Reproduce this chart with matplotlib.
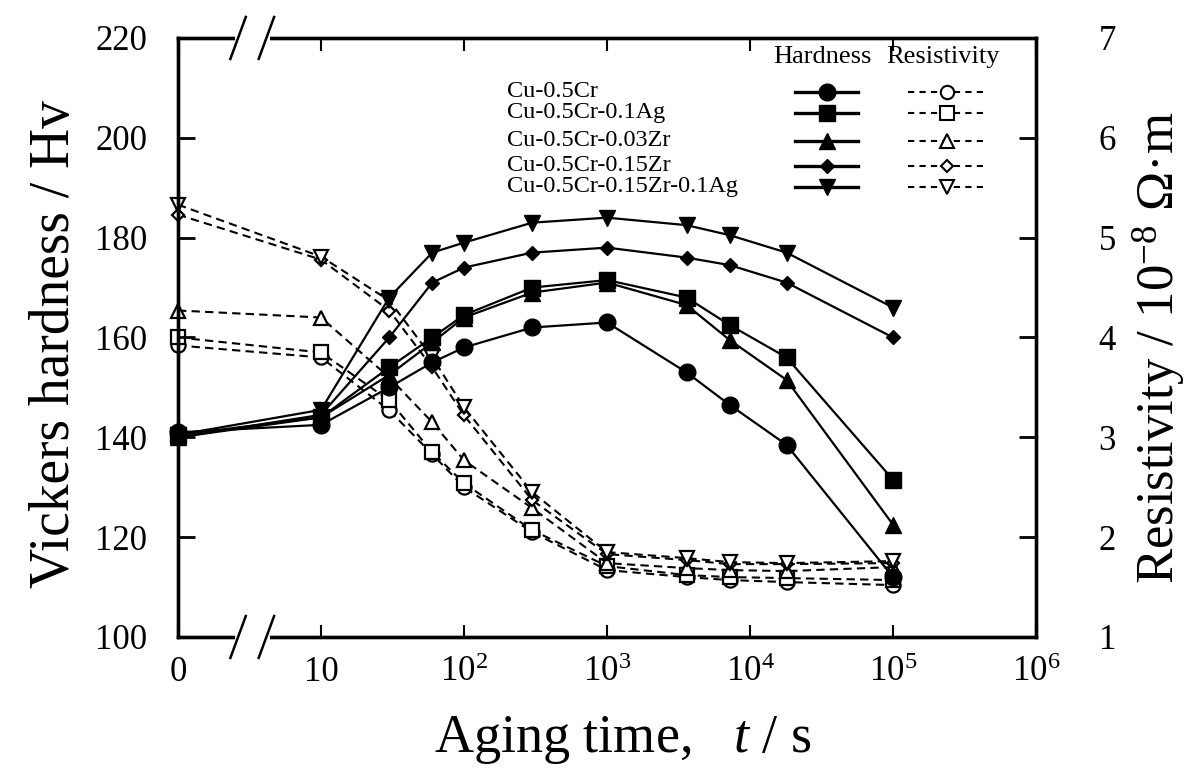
import numpy as np
import matplotlib
matplotlib.use("Agg")
import matplotlib.pyplot as plt

plt.rcParams['font.family'] = ['Liberation Serif', 'DejaVu Serif']
plt.rcParams['mathtext.fontset'] = 'custom'
plt.rcParams['mathtext.rm'] = 'Liberation Serif'
plt.rcParams['mathtext.it'] = 'Liberation Serif:italic'

# aging time (s); 0 is drawn at the "1" position of the log axis (broken axis)
time_s = [0, 10, 30, 60, 100, 300, 1000, 3600, 7200, 18000, 100000]

alloys = ['Cu-0.5Cr', 'Cu-0.5Cr-0.1Ag', 'Cu-0.5Cr-0.03Zr',
          'Cu-0.5Cr-0.15Zr', 'Cu-0.5Cr-0.15Zr-0.1Ag']

# Vickers hardness / Hv
hv_cr = [141, 142.5, 150, 155, 158, 162, 163, 153, 146.5, 138.5, 112]
hv_cr_ag = [140.5, 144, 154, 160, 164.5, 170, 171.5, 168, 162.5, 156, 131.5]
hv_cr_zr003 = [140, 144, 152.5, 159, 164, 169, 171, 166.5, 159.5, 151.5, 122.5]
hv_cr_zr015 = [140, 144.5, 160, 171, 174, 177, 178, 176, 174.5, 171, 160]
hv_cr_zr015_ag = [140.5, 145.5, 168, 177, 179, 183, 184, 182.5, 180.5, 177, 166]

# resistivity / 10^-8 ohm m
rho_cr = [3.92, 3.8, 3.27, 2.83, 2.5, 2.05, 1.67, 1.6, 1.57, 1.55, 1.52]
rho_cr_ag = [4.0, 3.85, 3.37, 2.85, 2.54, 2.07, 1.71, 1.62, 1.6, 1.59, 1.57]
rho_cr_zr003 = [4.27, 4.2, 3.6, 3.15, 2.77, 2.29, 1.74, 1.69, 1.67, 1.66, 1.7]
rho_cr_zr015 = [5.23, 4.78, 4.27, 3.7, 3.22, 2.37, 1.83, 1.77, 1.73, 1.73, 1.74]
rho_cr_zr015_ag = [5.33, 4.81, 4.37, 3.8, 3.3, 2.45, 1.85, 1.79, 1.75, 1.74, 1.76]

hv_all = [hv_cr, hv_cr_ag, hv_cr_zr003, hv_cr_zr015, hv_cr_zr015_ag]
rho_all = [rho_cr, rho_cr_ag, rho_cr_zr003, rho_cr_zr015, rho_cr_zr015_ag]
markers = ['o', 's', '^', 'D', 'v']
msizes = [12, 12, 12, 7.5, 12]

x_ticks = [1, 10, 1e2, 1e3, 1e4, 1e5, 1e6]
x_ticklabels = ['0', '10', '$10^2$', '$10^3$', '$10^4$', '$10^5$', '$10^6$']

t_plot = np.where(np.array(time_s) == 0, 1, time_s)

fig = plt.figure(figsize=(11.9, 7.81), dpi=100)
ax = fig.add_axes([0.1496, 0.1844, 0.721, 0.767])
ax2 = ax.twinx()

# resistivity (dashed, open markers)
for rho, m, ms in zip(rho_all, markers, msizes):
    ax2.plot(t_plot, rho, ls=(0, (4, 2.5)), lw=1.5, color='black', marker=m,
             ms=ms * 0.85, mfc='white', mec='black', mew=1.6, clip_on=False)

# hardness (solid, filled markers)
for hv, m, ms in zip(hv_all, markers, msizes):
    ax.plot(t_plot, hv, ls='-', lw=1.6, color='black', marker=m, ms=ms,
            mfc='black', mec='black', clip_on=False, zorder=3)
ax.set_zorder(ax2.get_zorder() + 1)
ax.patch.set_visible(False)

ax.set_xscale('log')
ax.set_xlim(1, 1e6)
ax.set_ylim(100, 220)
ax2.set_ylim(1, 7)
ax.set_xticks(x_ticks)
ax.set_xticklabels(x_ticklabels)
ax.xaxis.set_minor_locator(matplotlib.ticker.NullLocator())
ax.set_yticks(np.arange(100, 221, 20))
ax2.set_yticks(np.arange(1, 8, 1))

ax.tick_params(axis='x', direction='in', length=9, width=1.5, top=True,
               labelsize=25, pad=14)
ax.tick_params(axis='y', direction='in', length=12, width=2, labelsize=25,
               pad=22)
ax2.tick_params(axis='y', direction='in', length=12, width=2, labelsize=25,
                pad=45)
for a in (ax, ax2):
    for s in a.spines.values():
        s.set_linewidth(2.4)

# axis break marks "//" on top and bottom spines
for yb in (0, 1):
    ax.plot([0.07, 0.103], [yb, yb], transform=ax.transAxes, color='white',
            lw=5, clip_on=False, zorder=10)
    for xb in (0.07, 0.103):
        ax.plot([xb - 0.009, xb + 0.009], [yb - 0.035, yb + 0.035],
                transform=ax.transAxes, color='black', lw=1.8,
                clip_on=False, zorder=11)

fig.text(0.046, 0.56, 'Vickers hardness / Hv', rotation=90, ha='center',
         va='center', fontsize=40)
fig.text(0.974, 0.555, r'Resistivity / 10$^{\mathrm{-8}}$ Ω·m', rotation=90,
         ha='center', va='center', fontsize=38)
fig.text(0.523, 0.052, 'Aging time,   $t$ / s', ha='center', va='center',
         fontsize=39)

# legend block
def ax_xy(px, py):
    return (px - 178) / 858, (637 - py) / 599

hx, hy = ax_xy(822, 57)
ax.text(hx, hy, 'Hardness', transform=ax.transAxes, ha='center',
        va='center', fontsize=19)
rx, ry = ax_xy(943, 57)
ax.text(rx, ry, 'Resistivity', transform=ax.transAxes, ha='center',
        va='center', fontsize=19)
row_y = [92, 113, 141, 166, 187]
for name, m, ms, py in zip(alloys, markers, msizes, row_y):
    tx, ty = ax_xy(507, py)
    ax.text(tx, ty, name, transform=ax.transAxes, ha='left', va='center',
            fontsize=17.5)
    x0, yy = ax_xy(795, py)
    x1, _ = ax_xy(858, py)
    ax.plot([x0, x1], [yy, yy], transform=ax.transAxes, color='black',
            lw=2.4, clip_on=False)
    ax.plot([(x0 + x1) / 2], [yy], transform=ax.transAxes, marker=m,
            ms=ms, color='black', clip_on=False)
    x0, _ = ax_xy(908, py)
    x1, _ = ax_xy(986, py)
    ax.plot([x0, x1], [yy, yy], transform=ax.transAxes, color='black',
            lw=1.5, ls=(0, (3, 2.5)), clip_on=False)
    ax.plot([(x0 + x1) / 2], [yy], transform=ax.transAxes, marker=m,
            ms=ms * 0.8, mfc='white', mec='black', mew=1.5, clip_on=False)

fig.savefig('out.png', dpi=100)
